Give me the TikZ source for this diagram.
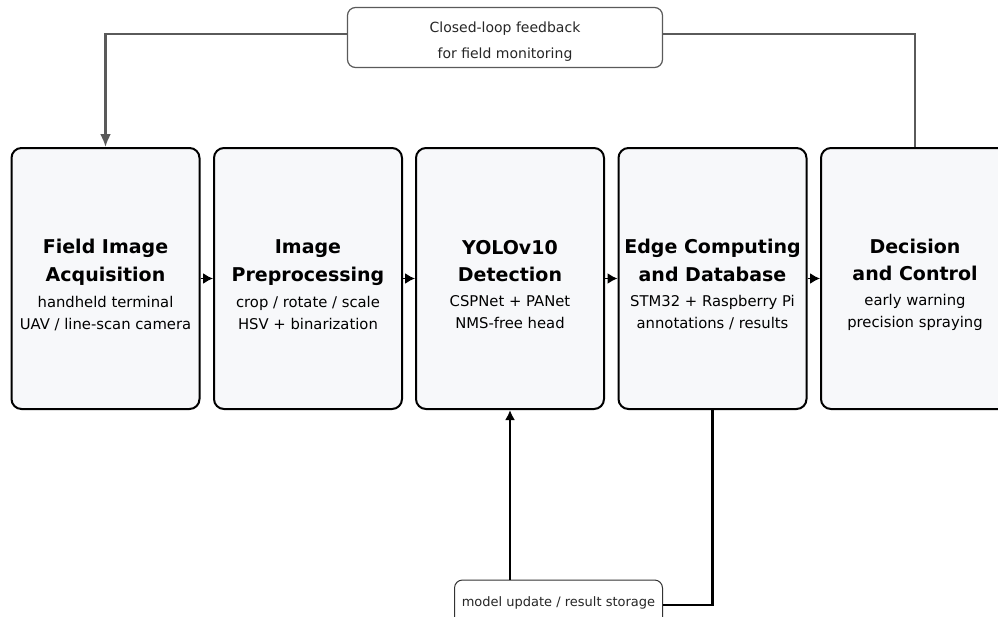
\documentclass[tikz,border=0pt]{standalone}
\usepackage{fontspec}
\setmainfont{DejaVu Sans}
\usetikzlibrary{arrows.meta}
\definecolor{boxfill}{HTML}{F7F8FA}
\definecolor{loopgray}{HTML}{5A5A5A}
\newcommand{\ttl}{\fontsize{19}{22}\selectfont\bfseries}
\newcommand{\topgap}[1]{\rule{0pt}{#1}}
\tikzstyle{stage}=[draw=black,line width=2pt,rounded corners=10pt,fill=boxfill,minimum width=188pt,minimum height=261pt,inner sep=0pt,align=center,text=black,font=\fontsize{14.8}{22}\selectfont]
\tikzstyle{note}=[draw,line width=1.2pt,rounded corners=8pt,fill=white,align=center,inner sep=0pt,font=\fontsize{14}{26}\selectfont,text=black!85]

\begin{document}
\begin{tikzpicture}[x=1pt,y=-1pt]
    \useasboundingbox[fill=white] (0,0) rectangle (998,616);
    % processing chain
    \node[stage] (acq)  at (105.5,278.5) {\topgap{27pt}\ttl Field Image\\[6pt]\ttl Acquisition\\[4pt]handheld terminal\\UAV / line-scan camera};
    \node[stage] (prep) at (308,278.5)   {\topgap{27pt}\ttl Image\\[6pt]\ttl Preprocessing\\[4pt]crop / rotate / scale\\HSV + binarization};
    \node[stage] (yolo) at (510,278.5)   {\topgap{27pt}\ttl YOLOv10\\[5pt]\ttl Detection\\[3pt]CSPNet + PANet\\NMS-free head};
    \node[stage] (edge) at (712.5,278.5) {\topgap{27pt}\ttl Edge Computing\\[6pt]\ttl and Database\\[3pt]STM32 + Raspberry Pi\\annotations / results};
    \node[stage] (dec)  at (915,278.5)   {\topgap{27pt}\ttl Decision\\[5pt]\ttl and Control\\[3pt]early warning\\precision spraying};

    \foreach \from/\to in {acq/prep,prep/yolo,yolo/edge,edge/dec}
    \draw[line width=1.6pt,-{Latex[length=10pt,width=11pt]}] (\from) -- (\to);

    % feedback loop
    \node[note,draw=loopgray,minimum width=315pt,minimum height=60pt] (fb) at (505,37.5) {\topgap{18pt}Closed-loop feedback\\for field monitoring};
    \draw[loopgray,line width=2.2pt] (dec.north) |- ([yshift=3.5pt]fb.east);
    \draw[loopgray,line width=2.2pt,-{Latex[length=13pt,width=11pt]}] ([yshift=3.5pt]fb.west) -| (acq.north);

    % storage
    \node[note,draw=black!80,line width=1pt,minimum width=208pt,minimum height=46pt,font=\fontsize{13}{20}\selectfont] (st) at (558.5,603) {model update / result storage};
    \draw[line width=2.5pt] (edge.south) |- ([yshift=-2pt]st.east);
    \draw[line width=2.5pt,-{Latex[length=10pt,width=10pt]}] (yolo.south |- st.north) -- (yolo.south);
\end{tikzpicture}
\end{document}
